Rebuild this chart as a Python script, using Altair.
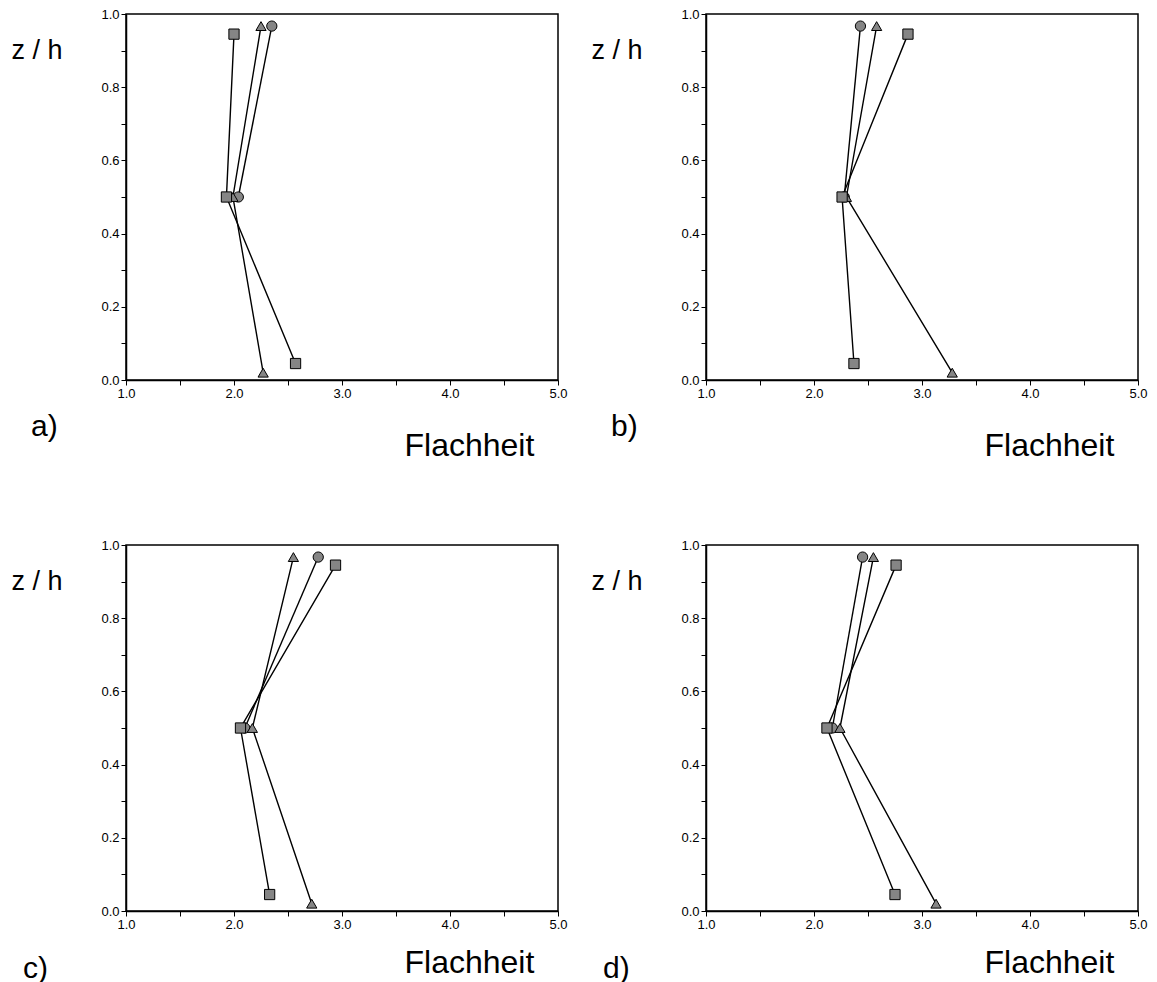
import altair as alt
import pandas as pd

# ---- data ----
panel_keys = ["a", "b", "c", "d"]
panel_labels = ["a)", "b)", "c)", "d)"]

z_circle = [0.967, 0.5]
z_triangle = [0.967, 0.5, 0.02]
z_square = [0.945, 0.5, 0.045]

x_circle = {
    "a": [2.35, 2.04],
    "b": [2.43, 2.28],
    "c": [2.78, 2.10],
    "d": [2.45, 2.17],
}
x_triangle = {
    "a": [2.25, 1.99, 2.27],
    "b": [2.58, 2.30, 3.28],
    "c": [2.55, 2.17, 2.72],
    "d": [2.55, 2.24, 3.13],
}
x_square = {
    "a": [2.00, 1.93, 2.57],
    "b": [2.87, 2.26, 2.37],
    "c": [2.94, 2.06, 2.33],
    "d": [2.76, 2.12, 2.75],
}

x_ticks = [1.0, 1.5, 2.0, 2.5, 3.0, 3.5, 4.0, 4.5, 5.0]
y_ticks = [0.0, 0.1, 0.2, 0.3, 0.4, 0.5, 0.6, 0.7, 0.8, 0.9, 1.0]

rows = []
for k in panel_keys:
    for name, zs, xs in (("circle", z_circle, x_circle[k]),
                         ("triangle", z_triangle, x_triangle[k]),
                         ("square", z_square, x_square[k])):
        for i, (z, x) in enumerate(zip(zs, xs)):
            rows.append({"panel": k, "series": name, "z": z, "x": x, "order": i})
df = pd.DataFrame(rows)

FONT = "Liberation Sans"


def make_panel(key, label, top_row):
    flach_y = 75 if top_row else 61
    label_y = 422 if top_row else 433
    label_x = -95 if top_row else -103
    base = alt.Chart(df[df.panel == key])
    x = alt.X(
        "x:Q",
        scale=alt.Scale(domain=[1, 5], nice=False, zero=False),
        axis=alt.Axis(
            values=x_ticks,
            labelExpr="datum.value % 1 == 0 ? format(datum.value, '.1f') : ''",
            labelOverlap=False,
            labelFlush=False,
            title="Flachheit",
            titleX=278,
            titleY=flach_y,
            titleAlign="left",
            titleBaseline="alphabetic",
            titleFontSize=32,
            titleFontWeight="normal",
            titleFont=FONT,
        ),
    )
    y = alt.Y(
        "z:Q",
        scale=alt.Scale(domain=[0, 1], nice=False, zero=False),
        axis=alt.Axis(
            values=y_ticks,
            labelExpr="round(datum.value*10) % 2 == 0 ? format(datum.value, '.1f') : ''",
            labelOverlap=False,
            labelFlush=False,
            title="z / h",
            titleAngle=0,
            titleX=-115,
            titleY=44,
            titleAlign="left",
            titleBaseline="alphabetic",
            titleFontSize=27,
            titleFontWeight="normal",
            titleFont=FONT,
        ),
    )
    lines = base.mark_line(color="black", strokeWidth=1.4).encode(
        x=x, y=y, detail="series:N", order="order:Q"
    )
    points = base.mark_point(
        filled=True, fill="#858585", stroke="black", strokeWidth=1,
        opacity=1, fillOpacity=1, size=105,
    ).encode(
        x=x,
        y=y,
        shape=alt.Shape(
            "series:N",
            scale=alt.Scale(domain=["circle", "triangle", "square"],
                            range=["circle", "triangle-up", "square"]),
            legend=None,
        ),
    )
    text = alt.Chart(pd.DataFrame({"t": [label]})).mark_text(
        fontSize=30, align="left", baseline="alphabetic", font=FONT, color="black"
    ).encode(text="t:N", x=alt.value(label_x), y=alt.value(label_y))
    return alt.layer(lines, points, text).properties(width=432, height=366)


charts = [make_panel(k, l, i < 2) for i, (k, l) in enumerate(zip(panel_keys, panel_labels))]

chart = alt.concat(
    *charts,
    columns=2,
    spacing=alt.RowColnumber(row=165, column=148),
    bounds="flush",
).properties(
    padding={"left": 10, "top": 7, "right": 0, "bottom": 0}
).configure_view(
    stroke="black", strokeWidth=1.5
).configure_axis(
    grid=False,
    domainColor="black",
    domainWidth=1.5,
    tickColor="black",
    tickSize=5,
    tickWidth=1,
    labelColor="black",
    labelFontSize=13,
    labelFont=FONT,
    titleColor="black",
)

chart.save("out.html", embed_options={"renderer": "svg", "actions": False})
